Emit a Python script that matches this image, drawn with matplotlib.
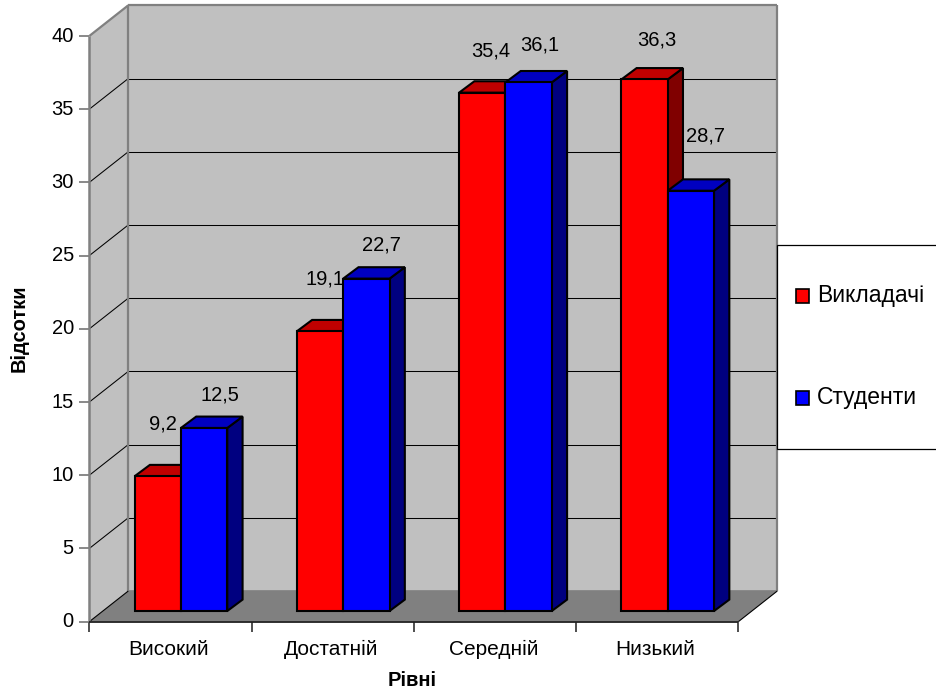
import matplotlib
matplotlib.use("Agg")
import matplotlib.pyplot as plt
from matplotlib.patches import Polygon, Rectangle
from matplotlib.lines import Line2D
from matplotlib.transforms import IdentityTransform
import numpy as np

plt.rcParams["font.family"] = ["Liberation Sans", "DejaVu Sans"]

# ---- data -------------------------------------------------------------
categories = ["Високий", "Достатній", "Середній", "Низький"]
series_names = ["Викладачі", "Студенти"]
teachers = [9.2, 19.1, 35.4, 36.3]
students = [12.5, 22.7, 36.1, 28.7]
y_ticks = [0, 5, 10, 15, 20, 25, 30, 35, 40]
y_title = "Відсотки"
x_title = "Рівні"

# ---- style ------------------------------------------------------------
front_colors = ["#FF0000", "#0000FF"]
top_colors = ["#C00000", "#0000C0"]
side_colors = ["#800000", "#000080"]
wall_color = "#C0C0C0"
floor_color = "#808080"
edge_gray = "#808080"
FS_TICK = 14.5
FS_VAL = 14.5
FS_CAT = 15
FS_LEG = 16.5
FS_TITLE = 14.5

# value-label nudges in pixels (dx, dy) from the top-front centre of each bar
label_nudge = [
    [(5, 47), (16, 27.5)],
    [(4.6, 47), (15, 28)],
    [(9, 36.5), (11.6, 32)],
    [(12.6, 34), (15, 49.5)],
]

W, H = 937, 694
fig = plt.figure(figsize=(W / 100, H / 100), dpi=100)
fig.patch.set_facecolor("white")

# front plane of the 3-D box, in pixel coordinates of the image
px_left, px_right = 89.3, 738.3
px_zero, px_top = 621.7, 36.0
ax = fig.add_axes([px_left / W, 1 - px_zero / H,
                   (px_right - px_left) / W, (px_zero - px_top) / H])
ax.set_xlim(0, len(categories))
ax.set_ylim(y_ticks[0], y_ticks[-1])
ax.set_axis_off()

DEPTH = np.array([39.0, 30.7])      # oblique offset of the back wall
BAR_SHIFT = np.array([10.5, 10.7])  # bars sit a little behind the front plane
BAR_DEPTH = np.array([15.3, 11.4])  # depth of each column
IDT = IdentityTransform()
ymax = y_ticks[-1]
ncat = len(categories)


def pt(x, v, off=(0.0, 0.0)):
    return ax.transData.transform((x, v)) + np.asarray(off, dtype=float)


def poly(verts, fc, ec="none", lw=0.0, z=1):
    ax.add_patch(Polygon(np.array(verts), closed=True, facecolor=fc,
                         edgecolor=ec, linewidth=lw, transform=IDT,
                         clip_on=False, zorder=z, joinstyle="miter"))


def seg(p, q, color, lw, z=2):
    ax.add_line(Line2D([p[0], q[0]], [p[1], q[1]], color=color, linewidth=lw,
                       transform=IDT, clip_on=False, zorder=z,
                       solid_capstyle="butt"))


# walls and floor
poly([pt(0, 0), pt(0, ymax), pt(0, ymax, DEPTH), pt(0, 0, DEPTH)], wall_color, z=1)
poly([pt(0, 0, DEPTH), pt(ncat, 0, DEPTH), pt(ncat, ymax, DEPTH),
      pt(0, ymax, DEPTH)], wall_color, z=1)
poly([pt(0, 0), pt(ncat, 0), pt(ncat, 0, DEPTH), pt(0, 0, DEPTH)], floor_color, z=1)

# gridlines on the back and side walls
for v in y_ticks[1:-1]:
    seg(pt(0, v, DEPTH), pt(ncat, v, DEPTH), "black", 0.75)
    seg(pt(0, v), pt(0, v, DEPTH), "black", 0.75)

# box outline
seg(pt(0, ymax, DEPTH), pt(ncat, ymax, DEPTH), edge_gray, 1.6)
seg(pt(ncat, 0, DEPTH), pt(ncat, ymax, DEPTH), edge_gray, 1.6)
seg(pt(0, 0, DEPTH), pt(0, ymax, DEPTH), edge_gray, 1.6)
seg(pt(0, 0, DEPTH), pt(ncat, 0, DEPTH), edge_gray, 1.2)
seg(pt(0, ymax), pt(0, ymax, DEPTH), edge_gray, 1.6)
seg(pt(0, 0), pt(0, ymax), edge_gray, 1.8, z=2.5)
seg(pt(0, 0), pt(ncat, 0), "#202020", 1.3, z=2.5)
seg(pt(0, 0), pt(0, 0, DEPTH), "black", 0.8)
seg(pt(ncat, 0), pt(ncat, 0, DEPTH), "black", 0.8)

# tick marks
for v in y_ticks:
    seg(pt(0, v, (-10, 0)), pt(0, v), edge_gray, 1.3)
for i in range(ncat + 1):
    seg(pt(i, 0), pt(i, 0, (0, -10)), "#404040", 1.3)

# tick labels
for v in y_ticks:
    ax.annotate(str(v), xy=(0, v), xytext=(-15.5, 0), textcoords="offset pixels",
                ha="right", va="center", fontsize=FS_TICK, annotation_clip=False)
for i, c in enumerate(categories):
    ax.annotate(c, xy=(i + 0.5, 0), xytext=(-1.5, -27.5), textcoords="offset pixels",
                ha="center", va="center", fontsize=FS_CAT, annotation_clip=False)

# columns
series = [teachers, students]
gap = 1.5
bw = 1.0 / (len(series) + gap)
z = 5
for i in range(ncat):
    for s, vals in enumerate(series):
        v = vals[i]
        xa = i + gap / 2 * bw + s * bw
        xb = xa + bw
        S = BAR_SHIFT
        B = BAR_SHIFT + BAR_DEPTH
        kw = dict(ec="black", lw=1.5)
        poly([pt(xb, 0, S), pt(xb, 0, B), pt(xb, v, B), pt(xb, v, S)],
             side_colors[s], z=z, **kw)
        poly([pt(xa, v, S), pt(xb, v, S), pt(xb, v, B), pt(xa, v, B)],
             top_colors[s], z=z + 0.1, **kw)
        poly([pt(xa, 0, S), pt(xb, 0, S), pt(xb, v, S), pt(xa, v, S)],
             front_colors[s], z=z + 0.2, **kw)
        z += 1

# value labels
for i in range(ncat):
    for s, vals in enumerate(series):
        v = vals[i]
        xc = i + gap / 2 * bw + (s + 0.5) * bw
        dx, dy = label_nudge[i][s]
        ax.annotate(f"{v:.1f}".replace(".", ","), xy=(xc, v),
                    xytext=(BAR_SHIFT[0] + dx, BAR_SHIFT[1] + dy),
                    textcoords="offset pixels", ha="center", va="baseline",
                    fontsize=FS_VAL, annotation_clip=False, zorder=50)

# axis titles
fig.text(19 / W, 1 - 328 / H, y_title, rotation=90, ha="center", va="center",
         fontsize=FS_TITLE, fontweight="bold")
fig.text(412.5 / W, 1 - 680 / H, x_title, ha="center", va="center",
         fontsize=FS_TITLE, fontweight="bold")

# legend
fig.add_artist(Rectangle((777 / W, 1 - 449 / H), (950 - 777) / W, (449 - 245) / H,
                         transform=fig.transFigure, facecolor="white",
                         edgecolor="black", linewidth=0.9, zorder=10))
for k, name in enumerate(series_names):
    yc = [296, 398][k]
    fig.add_artist(Rectangle((796 / W, 1 - (yc + 6.7) / H), 13 / W, 13.4 / H,
                             transform=fig.transFigure, facecolor=front_colors[k],
                             edgecolor="black", linewidth=1.2, zorder=11))
    fig.text(816.7 / W, 1 - yc / H, name, ha="left", va="center",
             fontsize=FS_LEG, zorder=12)

fig.savefig("out.png", dpi=100)
